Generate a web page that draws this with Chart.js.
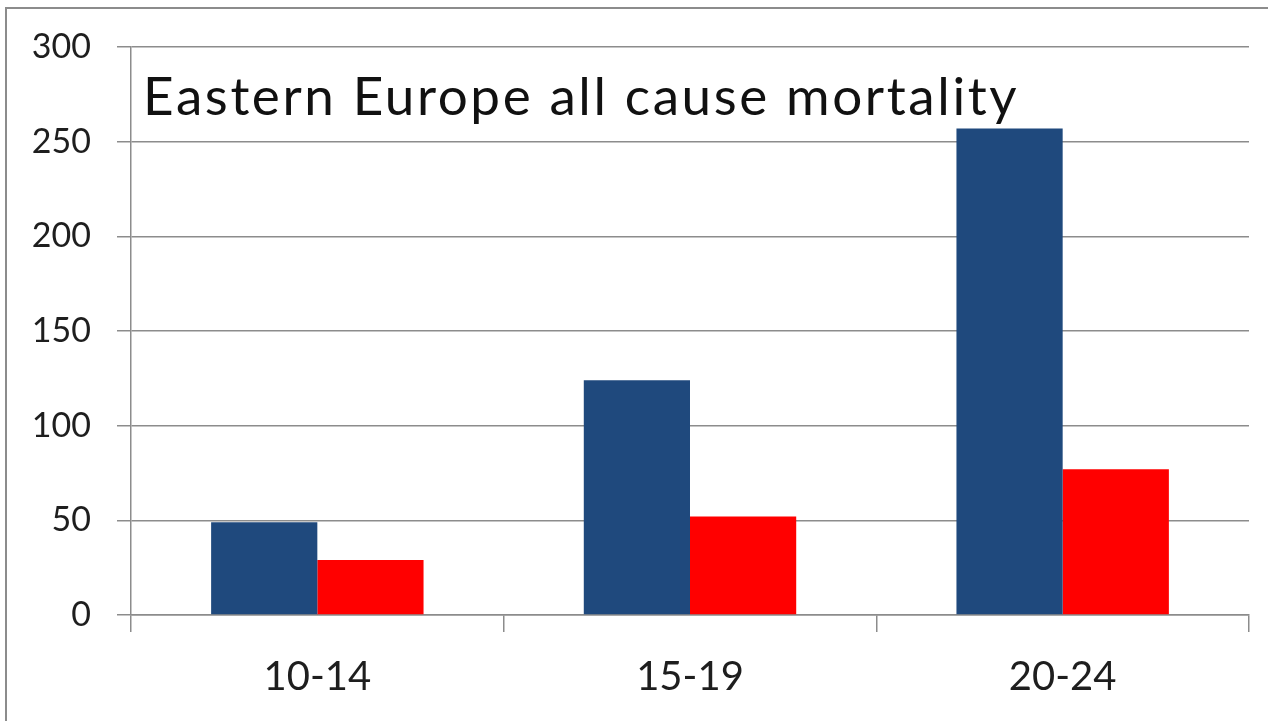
<!DOCTYPE html>
<html>
<head>
<meta charset="utf-8">
<title>Eastern Europe all cause mortality</title>
<script src="https://cdn.jsdelivr.net/npm/chart.js@4.4.1/dist/chart.umd.min.js"></script>
<style>
  html, body { margin: 0; padding: 0; background: #fff; overflow: hidden; }
  #frame {
    position: absolute; left: 5px; top: 7px; width: 1280px; height: 730px;
    border-left: 2px solid #8c8c8c; border-top: 2px solid #8c8c8c;
  }
  #wrap { position: absolute; left: 0; top: 0; width: 1268px; height: 721px; }
</style>
</head>
<body>
<div id="frame"></div>
<div id="wrap"><canvas id="chart"></canvas></div>
<script>
// age groups and rates per 100 000
const categories = ['10-14', '15-19', '20-24'];
const seriesBlue = [49, 124, 257];
const seriesRed = [29, 52, 77];
const yTicks = [0, 50, 100, 150, 200, 250, 300];

const titleText = 'Eastern Europe all cause mortality';
const fontFamily = 'Lato, "Open Sans", sans-serif';

// title sits inside the plot, top-left
const innerTitle = {
  id: 'innerTitle',
  afterDatasetsDraw(chart) {
    const { ctx, chartArea } = chart;
    ctx.save();
    ctx.font = '53px ' + fontFamily;
    ctx.letterSpacing = '2.6px';
    ctx.fillStyle = '#111';
    ctx.textBaseline = 'alphabetic';
    ctx.textAlign = 'left';
    ctx.fillText(titleText, chartArea.left + 12, chartArea.top + 68);
    ctx.restore();
  }
};

new Chart(document.getElementById('chart'), {
  type: 'bar',
  data: {
    labels: categories,
    datasets: [
      { data: seriesBlue, backgroundColor: '#1f497d', borderWidth: 0 },
      { data: seriesRed, backgroundColor: '#ff0000', borderWidth: 0 }
    ]
  },
  options: {
    responsive: true,
    maintainAspectRatio: false,
    animation: false,
    layout: { padding: { top: 47, right: 19, left: 0, bottom: 0 } },
    datasets: { bar: { barPercentage: 1, categoryPercentage: 0.57 } },
    plugins: {
      legend: { display: false },
      tooltip: { enabled: false }
    },
    scales: {
      x: {
        grid: {
          offset: true,
          drawOnChartArea: false,
          drawTicks: true,
          tickLength: 17,
          color: '#8c8c8c',
          lineWidth: 1.5
        },
        border: { color: '#8c8c8c', width: 1.5 },
        ticks: {
          color: '#1e1e1e',
          font: { family: fontFamily, size: 40 },
          padding: 21
        },
        afterFit(scale) { scale.height = 106; }
      },
      y: {
        min: 0,
        max: 300,
        afterBuildTicks(scale) { scale.ticks = yTicks.map(v => ({ value: v })); },
        grid: {
          color: '#8c8c8c',
          lineWidth: 1.5,
          drawTicks: true,
          tickLength: 14
        },
        border: { color: '#8c8c8c', width: 1.5 },
        ticks: {
          color: '#1e1e1e',
          font: { family: fontFamily, size: 34 },
          padding: 26
        },
        afterFit(scale) { scale.width = 131; }
      }
    }
  },
  plugins: [innerTitle]
});
</script>
</body>
</html>
